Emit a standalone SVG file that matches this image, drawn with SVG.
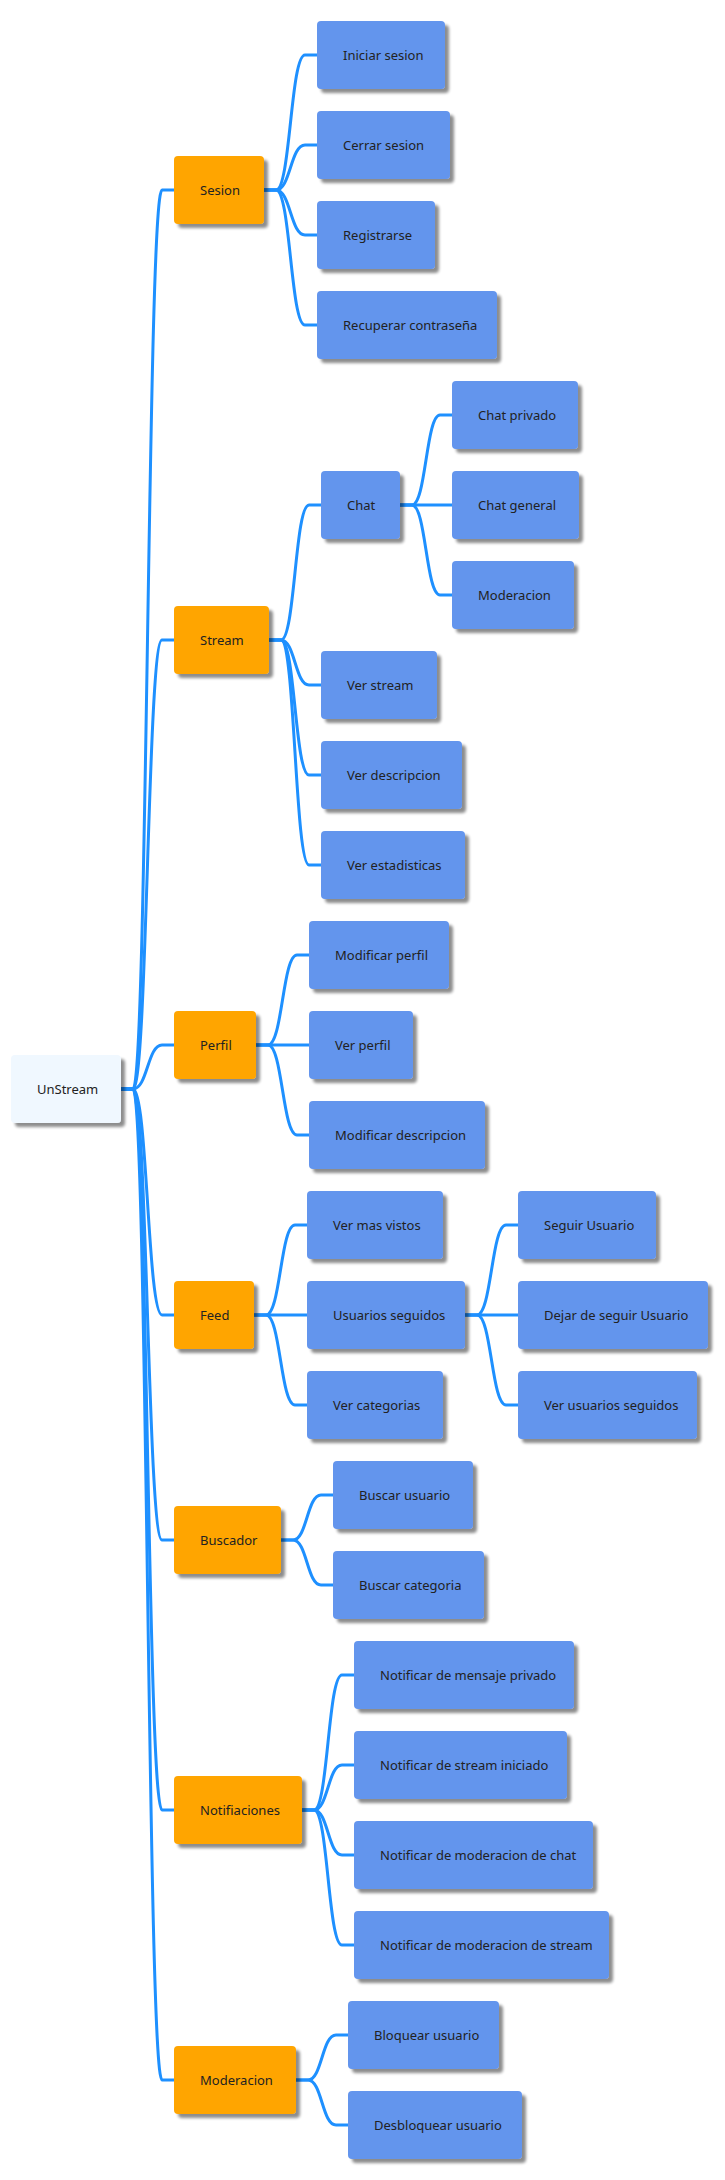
<svg xmlns="http://www.w3.org/2000/svg" width="725" height="2180" viewBox="0 0 725 2180">
<style>
  .root rect { fill: #F0F8FF; }
  .l1 rect { fill: #FFA500; }
  .leaf rect { fill: #6495ED; }
  rect { filter: url(#sh); }
  text { font-family: "Noto Sans", "Open Sans", sans-serif; font-size: 13px; fill: #222222; }
  .conn path { fill: none; stroke: #1E90FF; stroke-width: 3; }
</style>
<defs>
  <filter id="sh" x="-10%" y="-10%" width="130%" height="140%">
    <feGaussianBlur in="SourceAlpha" stdDeviation="1.5" result="b"/>
    <feOffset in="b" dx="4" dy="4" result="o"/>
    <feComponentTransfer in="o" result="s"><feFuncA type="linear" slope="0.45"/></feComponentTransfer>
    <feMerge><feMergeNode in="s"/><feMergeNode in="SourceGraphic"/></feMerge>
  </filter>
</defs>
<rect width="725" height="2180" fill="#FFFFFF" style="filter:none"/>
<g class="conn" id="connectors">
  <path d="M121 1089 H133 C147.5 1089 147.5 190 162 190 H174"/>
  <path d="M121 1089 H133 C147.5 1089 147.5 640 162 640 H174"/>
  <path d="M121 1089 H133 C147.5 1089 147.5 1045 162 1045 H174"/>
  <path d="M121 1089 H133 C147.5 1089 147.5 1315 162 1315 H174"/>
  <path d="M121 1089 H133 C147.5 1089 147.5 1540 162 1540 H174"/>
  <path d="M121 1089 H133 C147.5 1089 147.5 1810 162 1810 H174"/>
  <path d="M121 1089 H133 C147.5 1089 147.5 2080 162 2080 H174"/>
  <path d="M264 190 H276 C290.5 190 290.5 55 305 55 H317"/>
  <path d="M264 190 H276 C290.5 190 290.5 145 305 145 H317"/>
  <path d="M264 190 H276 C290.5 190 290.5 235 305 235 H317"/>
  <path d="M264 190 H276 C290.5 190 290.5 325 305 325 H317"/>
  <path d="M269 640 H281 C295 640 295 505 309 505 H321"/>
  <path d="M269 640 H281 C295 640 295 685 309 685 H321"/>
  <path d="M269 640 H281 C295 640 295 775 309 775 H321"/>
  <path d="M269 640 H281 C295 640 295 865 309 865 H321"/>
  <path d="M400 505 H412 C426 505 426 415 440 415 H452"/>
  <path d="M400 505 H452"/>
  <path d="M400 505 H412 C426 505 426 595 440 595 H452"/>
  <path d="M256 1045 H268 C282.5 1045 282.5 955 297 955 H309"/>
  <path d="M256 1045 H309"/>
  <path d="M256 1045 H268 C282.5 1045 282.5 1135 297 1135 H309"/>
  <path d="M254 1315 H266 C280.5 1315 280.5 1225 295 1225 H307"/>
  <path d="M254 1315 H307"/>
  <path d="M254 1315 H266 C280.5 1315 280.5 1405 295 1405 H307"/>
  <path d="M465 1315 H477 C491.5 1315 491.5 1225 506 1225 H518"/>
  <path d="M465 1315 H518"/>
  <path d="M465 1315 H477 C491.5 1315 491.5 1405 506 1405 H518"/>
  <path d="M281 1540 H293 C307 1540 307 1495 321 1495 H333"/>
  <path d="M281 1540 H293 C307 1540 307 1585 321 1585 H333"/>
  <path d="M302 1810 H314 C328 1810 328 1675 342 1675 H354"/>
  <path d="M302 1810 H314 C328 1810 328 1765 342 1765 H354"/>
  <path d="M302 1810 H314 C328 1810 328 1855 342 1855 H354"/>
  <path d="M302 1810 H314 C328 1810 328 1945 342 1945 H354"/>
  <path d="M296 2080 H308 C322 2080 322 2035 336 2035 H348"/>
  <path d="M296 2080 H308 C322 2080 322 2125 336 2125 H348"/>
</g>
<g id="n-unstream" class="root"><rect x="11" y="1055" width="110" height="68" rx="4"/><text x="37" y="1093.5">UnStream</text></g>
<g id="n-sesion" class="l1"><rect x="174" y="156" width="90" height="68" rx="4"/><text x="200" y="194.5">Sesion</text></g>
<g id="n-stream" class="l1"><rect x="174" y="606" width="95" height="68" rx="4"/><text x="200" y="644.5">Stream</text></g>
<g id="n-perfil" class="l1"><rect x="174" y="1011" width="82" height="68" rx="4"/><text x="200" y="1049.5">Perfil</text></g>
<g id="n-feed" class="l1"><rect x="174" y="1281" width="80" height="68" rx="4"/><text x="200" y="1319.5">Feed</text></g>
<g id="n-buscador" class="l1"><rect x="174" y="1506" width="107" height="68" rx="4"/><text x="200" y="1544.5">Buscador</text></g>
<g id="n-notif" class="l1"><rect x="174" y="1776" width="128" height="68" rx="4"/><text x="200" y="1814.5">Notifiaciones</text></g>
<g id="n-moderacion" class="l1"><rect x="174" y="2046" width="122" height="68" rx="4"/><text x="200" y="2084.5">Moderacion</text></g>
<g id="n-iniciar" class="leaf"><rect x="317" y="21" width="128" height="68" rx="4"/><text x="343" y="59.5">Iniciar sesion</text></g>
<g id="n-cerrar" class="leaf"><rect x="317" y="111" width="133" height="68" rx="4"/><text x="343" y="149.5">Cerrar sesion</text></g>
<g id="n-registrarse" class="leaf"><rect x="317" y="201" width="118" height="68" rx="4"/><text x="343" y="239.5">Registrarse</text></g>
<g id="n-recuperar" class="leaf"><rect x="317" y="291" width="180" height="68" rx="4"/><text x="343" y="329.5">Recuperar contraseña</text></g>
<g id="n-chat" class="leaf"><rect x="321" y="471" width="79" height="68" rx="4"/><text x="347" y="509.5">Chat</text></g>
<g id="n-chatprivado" class="leaf"><rect x="452" y="381" width="126" height="68" rx="4"/><text x="478" y="419.5">Chat privado</text></g>
<g id="n-chatgeneral" class="leaf"><rect x="452" y="471" width="127" height="68" rx="4"/><text x="478" y="509.5">Chat general</text></g>
<g id="n-chatmod" class="leaf"><rect x="452" y="561" width="122" height="68" rx="4"/><text x="478" y="599.5">Moderacion</text></g>
<g id="n-verstream" class="leaf"><rect x="321" y="651" width="116" height="68" rx="4"/><text x="347" y="689.5">Ver stream</text></g>
<g id="n-verdesc" class="leaf"><rect x="321" y="741" width="141" height="68" rx="4"/><text x="347" y="779.5">Ver descripcion</text></g>
<g id="n-verest" class="leaf"><rect x="321" y="831" width="144" height="68" rx="4"/><text x="347" y="869.5">Ver estadisticas</text></g>
<g id="n-modperfil" class="leaf"><rect x="309" y="921" width="140" height="68" rx="4"/><text x="335" y="959.5">Modificar perfil</text></g>
<g id="n-verperfil" class="leaf"><rect x="309" y="1011" width="104" height="68" rx="4"/><text x="335" y="1049.5">Ver perfil</text></g>
<g id="n-moddesc" class="leaf"><rect x="309" y="1101" width="176" height="68" rx="4"/><text x="335" y="1139.5">Modificar descripcion</text></g>
<g id="n-vermas" class="leaf"><rect x="307" y="1191" width="136" height="68" rx="4"/><text x="333" y="1229.5">Ver mas vistos</text></g>
<g id="n-usuarios" class="leaf"><rect x="307" y="1281" width="158" height="68" rx="4"/><text x="333" y="1319.5">Usuarios seguidos</text></g>
<g id="n-vercat" class="leaf"><rect x="307" y="1371" width="136" height="68" rx="4"/><text x="333" y="1409.5">Ver categorias</text></g>
<g id="n-seguir" class="leaf"><rect x="518" y="1191" width="138" height="68" rx="4"/><text x="544" y="1229.5">Seguir Usuario</text></g>
<g id="n-dejar" class="leaf"><rect x="518" y="1281" width="190" height="68" rx="4"/><text x="544" y="1319.5">Dejar de seguir Usuario</text></g>
<g id="n-verusu" class="leaf"><rect x="518" y="1371" width="179" height="68" rx="4"/><text x="544" y="1409.5">Ver usuarios seguidos</text></g>
<g id="n-buscusu" class="leaf"><rect x="333" y="1461" width="140" height="68" rx="4"/><text x="359" y="1499.5">Buscar usuario</text></g>
<g id="n-busccat" class="leaf"><rect x="333" y="1551" width="151" height="68" rx="4"/><text x="359" y="1589.5">Buscar categoria</text></g>
<g id="n-notmsg" class="leaf"><rect x="354" y="1641" width="220" height="68" rx="4"/><text x="380" y="1679.5">Notificar de mensaje privado</text></g>
<g id="n-notstream" class="leaf"><rect x="354" y="1731" width="213" height="68" rx="4"/><text x="380" y="1769.5">Notificar de stream iniciado</text></g>
<g id="n-notmodchat" class="leaf"><rect x="354" y="1821" width="239" height="68" rx="4"/><text x="380" y="1859.5">Notificar de moderacion de chat</text></g>
<g id="n-notmodstream" class="leaf"><rect x="354" y="1911" width="255" height="68" rx="4"/><text x="380" y="1949.5">Notificar de moderacion de stream</text></g>
<g id="n-bloquear" class="leaf"><rect x="348" y="2001" width="151" height="68" rx="4"/><text x="374" y="2039.5">Bloquear usuario</text></g>
<g id="n-desbloquear" class="leaf"><rect x="348" y="2091" width="174" height="68" rx="4"/><text x="374" y="2129.5">Desbloquear usuario</text></g>
</svg>
